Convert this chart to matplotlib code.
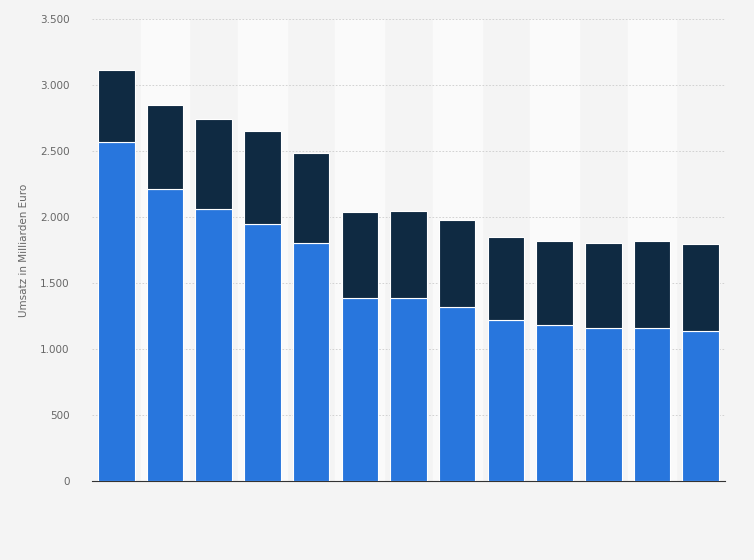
import matplotlib
matplotlib.use("Agg")
import matplotlib.pyplot as plt
import numpy as np

blue_vals = [2570, 2210, 2060, 1945, 1800, 1390, 1390, 1315, 1220, 1185, 1160, 1160, 1140]
total_vals = [3110, 2845, 2745, 2648, 2488, 2040, 2045, 1980, 1850, 1820, 1805, 1820, 1798]
dark_vals = [t - b for t, b in zip(total_vals, blue_vals)]
yticks = [0, 500, 1000, 1500, 2000, 2500, 3000, 3500]
ylabels = ["0", "500", "1.000", "1.500", "2.000", "2.500", "3.000", "3.500"]

fig = plt.figure(figsize=(7.54, 5.60), dpi=100)
fig.patch.set_facecolor("#f4f4f4")
ax = fig.add_axes([92/754, 1-481/560, 633/754, 462/560])
ax.set_facecolor("#f4f4f4")
n = len(blue_vals)
x = np.arange(n)
for i in range(n):
    if i % 2 == 1:
        ax.axvspan(i-0.5, i+0.5, color="#fafafa", zorder=0)
ax.bar(x, blue_vals, width=0.75, color="#2876dd", edgecolor="white", linewidth=0.8, zorder=3)
ax.bar(x, dark_vals, bottom=blue_vals, width=0.75, color="#0f2a42", edgecolor="white", linewidth=0.8, zorder=3)
ax.set_xlim(-0.5, n-0.5)
ax.set_ylim(0, 3500)
ax.set_yticks(yticks)
ax.set_yticklabels(ylabels, fontsize=7.5, color="#666666")
ax.set_xticks([])
ax.grid(axis="y", color="#cccccc", linestyle=(0, (2, 2)), linewidth=0.6, zorder=1)
for s in ["top", "right", "left"]:
    ax.spines[s].set_visible(False)
ax.spines["bottom"].set_color("#333333")
ax.tick_params(axis="y", length=0, pad=16)
ax.set_ylabel("Umsatz in Milliarden Euro", fontsize=7.5, color="#666666", labelpad=8)
fig.savefig("out.png", dpi=100, facecolor=fig.get_facecolor())
